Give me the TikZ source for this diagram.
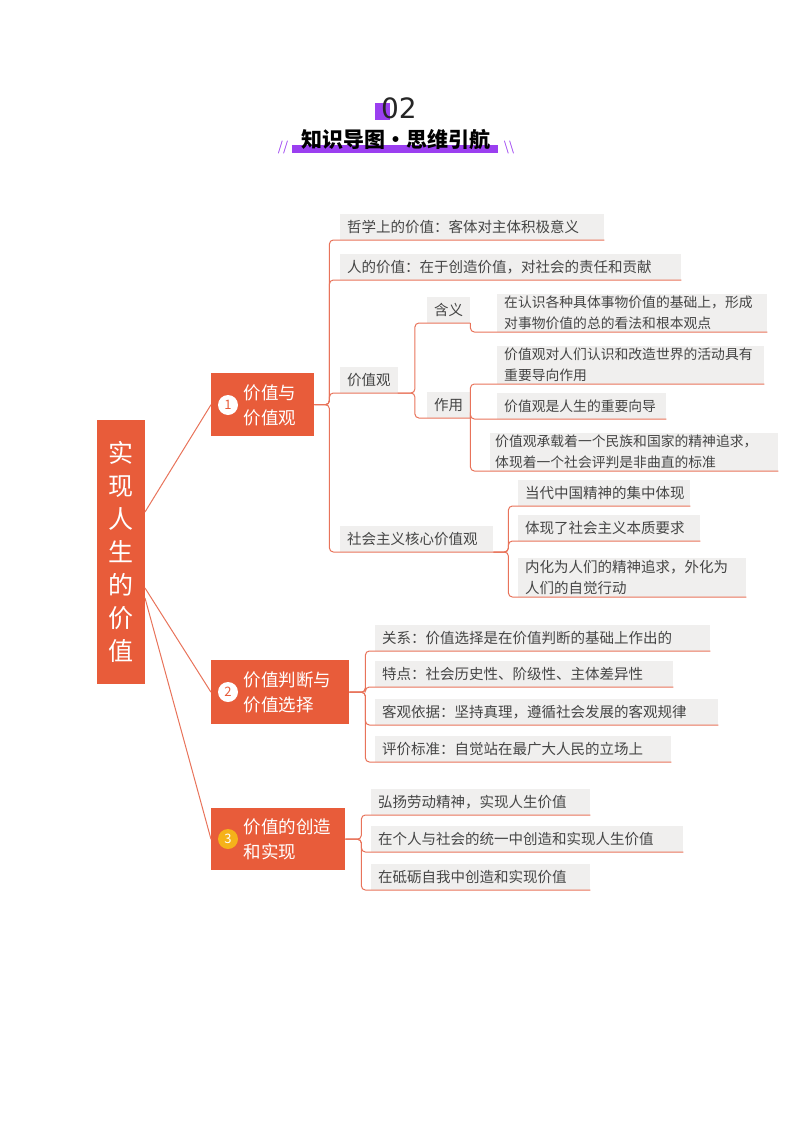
\documentclass[tikz,border=0pt]{standalone}
\usepackage{fontspec}
\setmainfont{Noto Sans CJK SC}
\definecolor{org}{HTML}{E85C3A}
\definecolor{lin}{HTML}{E8735A}
\definecolor{lbg}{HTML}{F0EFEE}
\definecolor{txt}{HTML}{454545}
\definecolor{pur}{HTML}{9B3FF0}
\definecolor{gold}{HTML}{F5B21A}
\tikzset{
 leaf/.style={fill=lbg, text=txt, font=\fontsize{14.5}{21}\selectfont, anchor=south west, inner xsep=7pt, inner ysep=2pt, minimum height=26pt, align=left, text width=#1},
 midn/.style={fill=lbg, text=txt, font=\fontsize{14.5}{21}\selectfont, anchor=south west, inner xsep=7pt, inner ysep=2pt, minimum height=26pt},
 conn/.style={draw=lin, line width=1pt, rounded corners=4pt},
 br/.style={fill=org, text=white, font=\fontsize{17}{25}\selectfont, align=left, anchor=north west, inner sep=0pt},
 num/.style={circle, fill=white, text=org, font=\fontsize{13}{13}\selectfont, inner sep=0pt, minimum size=20pt}
}
\begin{document}
\begin{tikzpicture}[x=1pt,y=-1pt]
\useasboundingbox (0,0) rectangle (800,1132);
% title
\fill[pur] (375,103) rectangle (390,120);
\node (t02) at (399,108) {\fontsize{28}{28}\selectfont\fontspec{DejaVu Sans}\color{black!85}02};
\fill[pur] (292,145) rectangle (498,153);
\node[font=\fontsize{21}{21}\selectfont\bfseries] (ttl) at (396,140) {知识导图·思维引航};
\node[text=pur, font=\fontsize{13}{13}\selectfont\itshape] (sl) at (283,148) {//};
\node[text=pur, font=\fontsize{13}{13}\selectfont\itshape] (sr) at (509,148) {\textbackslash\textbackslash};
% root
\node[fill=org, text=white, minimum width=48pt, minimum height=264pt, anchor=north west, align=center, font=\fontsize{25}{33}\selectfont] (root) at (97,420) {实\\现\\人\\生\\的\\价\\值};
% branches
\node[br, minimum width=103pt, minimum height=63pt] (b1) at (211,373) {};
\node[num] (n1) at (228,405) {1};
\node[text=white, font=\fontsize{17.5}{25}\selectfont, align=left, anchor=west] (t1) at (240,405) {价值与\\价值观};
\node[br, minimum width=138pt, minimum height=64pt] (b2) at (211,660) {};
\node[num] (n2) at (228,692) {2};
\node[text=white, font=\fontsize{17.5}{25}\selectfont, align=left, anchor=west] (t2) at (240,692) {价值判断与\\价值选择};
\node[br, minimum width=134pt, minimum height=62pt] (b3) at (211,808) {};
\node[num, fill=gold, text=white] (n3) at (228,839) {3};
\node[text=white, font=\fontsize{17.5}{25}\selectfont, align=left, anchor=west] (t3) at (240,839) {价值的创造\\和实现};
\draw[lin, line width=1pt] (145,512) -- (b1.west);
\draw[lin, line width=1pt] (145,588) -- (b2.west);
\draw[lin, line width=1pt] (145,598) -- (b3.west);
% branch 1 leaves
\node[leaf=250pt] (a1) at (340,240) {哲学上的价值：客体对主体积极意义};
\node[leaf=327pt] (a2) at (340,280) {人的价值：在于创造价值，对社会的责任和贡献};
\node[midn] (pv) at (340,393) {价值观};
\node[leaf=139pt] (sh) at (340,552) {社会主义核心价值观};
\foreach \c in {a1,a2,pv,sh} \draw[conn] (b1.east) -- ++(15,0) |- (\c.south west) -- (\c.south east);
\node[midn] (hy) at (427,323) {含义};
\node[midn] (zy) at (427,418) {作用};
\foreach \c in {hy,zy} \draw[conn] (pv.south east) -- ++(17,0) |- (\c.south west) -- (\c.south east);
\node[leaf=256pt, font=\fontsize{13.8}{21}\selectfont] (c1) at (497,332) {在认识各种具体事物价值的基础上，形成\\对事物价值的总的看法和根本观点};
\draw[conn] (hy.south east) |- (c1.south west) -- (c1.south east);
\node[leaf=253pt, font=\fontsize{13.8}{21}\selectfont] (d1) at (497,384) {价值观对人们认识和改造世界的活动具有\\重要导向作用};
\node[leaf=155pt, font=\fontsize{13.8}{21}\selectfont] (d2) at (497,419) {价值观是人生的重要向导};
\node[leaf=278pt, font=\fontsize{13.8}{21}\selectfont, inner xsep=5pt] (d3) at (490,471) {价值观承载着一个民族和国家的精神追求，\\体现着一个社会评判是非曲直的标准};
\foreach \c in {d1,d2,d3} \draw[conn] (zy.south east) |- (\c.south west) -- (\c.south east);
\node[leaf=158pt] (e1) at (518,506) {当代中国精神的集中体现};
\node[leaf=168pt] (e2) at (518,541) {体现了社会主义本质要求};
\node[leaf=214pt] (e3) at (518,597) {内化为人们的精神追求，外化为\\人们的自觉行动};
\foreach \c in {e1,e2,e3} \draw[conn] (sh.south east) -- ++(15,0) |- (\c.south west) -- (\c.south east);
% branch 2
\node[leaf=321pt] (f1) at (375,651) {关系：价值选择是在价值判断的基础上作出的};
\node[leaf=284pt] (f2) at (375,687) {特点：社会历史性、阶级性、主体差异性};
\node[leaf=329pt] (f3) at (375,725) {客观依据：坚持真理，遵循社会发展的客观规律};
\node[leaf=282pt] (f4) at (375,762) {评价标准：自觉站在最广大人民的立场上};
\foreach \c in {f1,f2,f3,f4} \draw[conn] (b2.east) -- ++(16,0) |- (\c.south west) -- (\c.south east);
% branch 3
\node[leaf=205pt] (g1) at (371,815) {弘扬劳动精神，实现人生价值};
\node[leaf=298pt] (g2) at (371,852) {在个人与社会的统一中创造和实现人生价值};
\node[leaf=205pt] (g3) at (371,890) {在砥砺自我中创造和实现价值};
\foreach \c in {g1,g2,g3} \draw[conn] (b3.east) -- ++(16,0) |- (\c.south west) -- (\c.south east);
\end{tikzpicture}
\end{document}
